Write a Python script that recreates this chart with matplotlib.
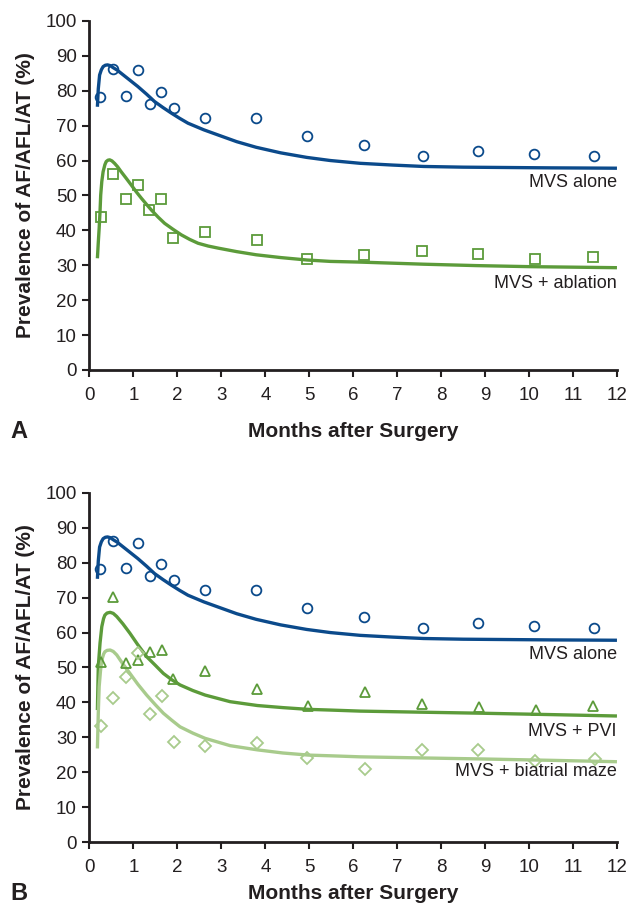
import matplotlib
matplotlib.use("Agg")
import matplotlib.pyplot as plt

plt.rcParams["font.family"] = ["Liberation Sans", "DejaVu Sans"]

INK = "#231f20"
BLUE = "#0b4a8b"
GREEN = "#5c9b3a"
LIGHT = "#a8cb8c"

# observed points (months, %) - same MVS alone data in both panels
alone_x = [0.25, 0.53, 0.83, 1.11, 1.37, 1.62, 1.92, 2.62, 3.79, 4.94, 6.24, 7.59, 8.84, 10.11, 11.48]
alone_y = [78.1, 86.2, 78.5, 85.8, 76.1, 79.7, 75.0, 72.3, 72.2, 67.0, 64.4, 61.3, 62.8, 61.9, 61.3]

ablation_x = [0.26, 0.54, 0.82, 1.10, 1.36, 1.63, 1.91, 2.63, 3.82, 4.95, 6.24, 7.57, 8.83, 10.13, 11.46]
ablation_y = [43.9, 56.2, 49.0, 53.0, 45.9, 49.0, 37.9, 39.5, 37.1, 31.8, 32.8, 34.1, 33.1, 31.7, 32.5]

pvi_x = [0.26, 0.54, 0.84, 1.11, 1.38, 1.64, 1.91, 2.63, 3.82, 4.98, 6.26, 7.57, 8.86, 10.15, 11.45]
pvi_y = [51.7, 70.1, 51.2, 52.1, 54.4, 54.9, 46.6, 49.1, 43.9, 39.0, 42.9, 39.5, 38.7, 37.8, 39.1]

maze_x = [0.26, 0.54, 0.82, 1.10, 1.37, 1.64, 1.92, 2.63, 3.82, 4.95, 6.26, 7.57, 8.83, 10.13, 11.50]
maze_y = [33.3, 41.3, 47.4, 54.2, 36.7, 41.8, 28.7, 27.5, 28.3, 24.0, 20.8, 26.4, 26.4, 23.3, 23.7]

# fitted curves
alone_fit_x = [0.18, 0.20, 0.23, 0.27, 0.31, 0.36, 0.41, 0.47, 0.54, 0.63, 0.72, 0.90, 1.10, 1.30,
               1.48, 1.67, 1.86, 2.05, 2.24, 2.60, 2.93, 3.35, 3.79, 4.35, 4.94, 5.48, 6.16, 6.90,
               7.60, 8.50, 9.50, 10.50, 11.30, 12.00]
alone_fit_y = [75.4, 80.5, 84.5, 86.0, 86.9, 87.3, 87.4, 87.2, 86.6, 85.9, 85.0, 83.2, 81.2, 79.0,
               76.9, 75.2, 73.6, 72.1, 70.7, 68.8, 67.3, 65.4, 63.8, 62.2, 60.9, 60.0, 59.2, 58.7,
               58.3, 58.1, 58.0, 57.9, 57.85, 57.8]

ablation_fit_x = [0.18, 0.20, 0.22, 0.24, 0.255, 0.28, 0.31, 0.35, 0.38, 0.42, 0.46, 0.51, 0.57, 0.64,
                  0.72, 0.83, 0.95, 1.06, 1.18, 1.30, 1.41, 1.56, 1.71, 1.90, 2.09, 2.28, 2.47, 2.70,
                  2.93, 3.35, 3.79, 4.35, 4.95, 5.48, 6.16, 7.60, 8.80, 10.00, 11.00, 12.00]
ablation_fit_y = [32.0, 36.5, 40.6, 45.5, 50.1, 54.0, 56.8, 58.8, 59.7, 60.1, 60.2, 59.9, 59.2, 58.2,
                  56.8, 55.0, 53.0, 51.1, 49.2, 47.4, 45.8, 43.8, 42.0, 40.3, 38.7, 37.4, 36.3, 35.5,
                  34.9, 33.9, 33.0, 32.2, 31.5, 31.1, 30.9, 30.3, 29.9, 29.6, 29.45, 29.3]

pvi_fit_x = [0.18, 0.20, 0.24, 0.28, 0.32, 0.35, 0.40, 0.47, 0.54, 0.62, 0.76, 0.92, 1.10, 1.30, 1.50,
             1.68, 1.87, 2.06, 2.35, 2.63, 3.20, 3.82, 4.40, 4.98, 5.48, 6.16, 7.50, 8.90, 10.50, 12.00]
pvi_fit_y = [37.8, 50.2, 57.0, 61.7, 64.0, 65.0, 65.6, 65.8, 65.5, 64.6, 62.5, 59.8, 56.5, 53.1, 50.6,
             48.3, 46.5, 45.0, 43.4, 42.1, 40.2, 39.1, 38.5, 38.0, 37.8, 37.5, 37.2, 36.9, 36.5, 36.1]

maze_fit_x = [0.18, 0.20, 0.22, 0.25, 0.28, 0.32, 0.35, 0.40, 0.47, 0.54, 0.62, 0.76, 0.92, 1.10, 1.30,
              1.50, 1.68, 1.87, 2.06, 2.35, 2.63, 3.20, 3.82, 4.40, 4.98, 5.48, 6.16, 7.50, 8.90,
              10.50, 12.00]
maze_fit_y = [26.8, 37.0, 44.5, 49.0, 52.1, 53.8, 54.5, 54.9, 55.0, 54.6, 53.6, 51.0, 48.3, 45.2, 42.1,
              39.3, 36.9, 34.9, 33.0, 31.2, 29.7, 27.6, 26.4, 25.5, 24.9, 24.7, 24.4, 24.1, 23.8,
              23.4, 23.0]

x_ticks = list(range(0, 13))
y_ticks = list(range(0, 101, 10))


def style_axes(ax, xpad):
    ax.set_xlim(0, 12)
    ax.set_ylim(0, 100)
    for side in ["top", "right"]:
        ax.spines[side].set_visible(False)
    for side in ["left", "bottom"]:
        ax.spines[side].set_linewidth(2.0)
        ax.spines[side].set_color(INK)
    ax.set_xticks(x_ticks)
    ax.set_yticks(y_ticks)
    ax.tick_params(direction="out", length=5, width=1.5, color=INK,
                   labelsize=13.5, labelcolor=INK)
    ax.tick_params(axis="x", pad=7)
    ax.tick_params(axis="y", pad=4)
    ax.set_xlabel("Months after Surgery", fontsize=15, fontweight="bold", color=INK, labelpad=xpad)
    ax.set_ylabel("Prevalence of AF/AFL/AT (%)", fontsize=15, fontweight="bold", color=INK, labelpad=8)


def draw_series(ax, fx, fy, px, py, color, marker, ms):
    ax.plot(fx, fy, color=color, lw=2.4, solid_capstyle="butt", zorder=2)
    ax.plot(px, py, linestyle="none", marker=marker, ms=ms, mfc="none", mec=color, mew=1.3, zorder=3)


fig = plt.figure(figsize=(6.32, 9.09), dpi=100)
ax_a = fig.add_axes([0.1416, 0.593, 0.8346, 0.384])
ax_b = fig.add_axes([0.1416, 0.0737, 0.8346, 0.384])

# panel A
draw_series(ax_a, alone_fit_x, alone_fit_y, alone_x, alone_y, BLUE, "o", 7)
draw_series(ax_a, ablation_fit_x, ablation_fit_y, ablation_x, ablation_y, GREEN, "s", 6.5)
ax_a.text(12, 52.4, "MVS alone", ha="right", va="baseline", fontsize=13, color=INK)
ax_a.text(12, 23.4, "MVS + ablation", ha="right", va="baseline", fontsize=13, color=INK)
style_axes(ax_a, 13)

# panel B
draw_series(ax_b, alone_fit_x, alone_fit_y, alone_x, alone_y, BLUE, "o", 7)
draw_series(ax_b, pvi_fit_x, pvi_fit_y, pvi_x, pvi_y, GREEN, "^", 7.5)
draw_series(ax_b, maze_fit_x, maze_fit_y, maze_x, maze_y, LIGHT, "D", 6.5)
ax_b.text(12, 52.3, "MVS alone", ha="right", va="baseline", fontsize=13, color=INK)
ax_b.text(12, 30.4, "MVS + PVI", ha="right", va="baseline", fontsize=13, color=INK)
ax_b.text(12, 18.8, "MVS + biatrial maze", ha="right", va="baseline", fontsize=13, color=INK)
style_axes(ax_b, 6)

fig.text(10 / 632, 1 - 432 / 909, "A", fontsize=17, fontweight="bold", color=INK, va="center")
fig.text(10 / 632, 1 - 894 / 909, "B", fontsize=17, fontweight="bold", color=INK, va="center")

fig.savefig("out.png", dpi=100)
